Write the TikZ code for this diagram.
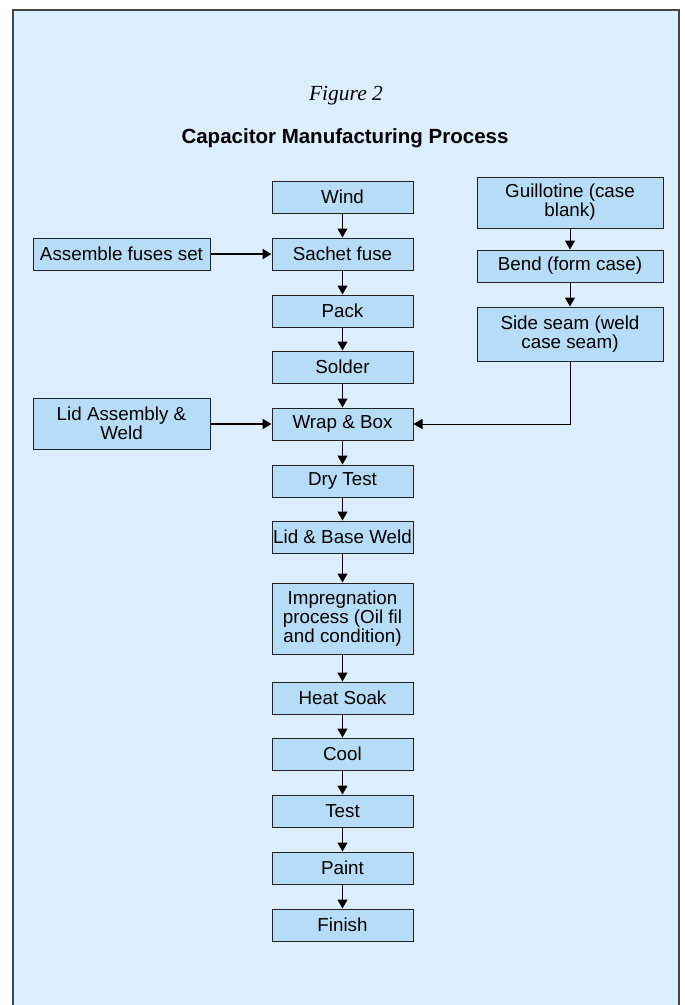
\documentclass[tikz,border=0pt]{standalone}
\usepackage{fontspec}
\setmainfont{Liberation Sans}
\newfontfamily\serifit{Liberation Serif}
\usetikzlibrary{arrows.meta}
\definecolor{panelbg}{HTML}{DCEEFC}
\definecolor{boxfill}{HTML}{B6DDF5}
\definecolor{framecol}{HTML}{454545}
\definecolor{boxline}{HTML}{222222}
\tikzset{
  procbox/.style={draw=boxline, line width=1pt, fill=boxfill, rectangle, align=center,
    inner sep=0pt, font=\fontsize{18.8}{19}\selectfont},
  mainbox/.style={procbox, minimum width=141pt, minimum height=32pt},
  leftbox/.style={procbox, minimum width=177pt},
  rightbox/.style={procbox, minimum width=186pt},
  flow/.style={draw=black, line width=1pt, -{Triangle[width=10pt,length=9pt]}},
  feed/.style={draw=black, line width=2pt, -{Triangle[width=10pt,length=9pt]}}
}
\begin{document}
\begin{tikzpicture}[x=1pt,y=-1pt]
\useasboundingbox (0,0) rectangle (685,1005);
\fill[white] (0,0) rectangle (685,1005);
\fill[panelbg] (13,10) rectangle (679,1005);
\draw[framecol, line width=1.6pt] (13,1005) -- (13,10) -- (679,10) -- (679,1005);
\node (fig) at (346,96) {\serifit\itshape\fontsize{21.5}{24}\selectfont Figure 2};
\node (title) at (345,138) {\bfseries\fontsize{20.5}{22}\selectfont Capacitor Manufacturing Process};
% main column
\node[mainbox] (wind) at (342.5,197) {Wind};
\node[mainbox] (sachet) at (342.5,254) {Sachet fuse};
\node[mainbox] (pack) at (342.5,311) {Pack};
\node[mainbox] (solder) at (342.5,367) {Solder};
\node[mainbox] (wrap) at (342.5,424) {Wrap \& Box};
\node[mainbox] (dry) at (342.5,481) {Dry Test};
\node[mainbox] (lidbase) at (342.5,537) {Lid \& Base Weld};
\node[mainbox, minimum height=71pt] (impreg) at (342.5,618.5) {Impregnation\\process (Oil fil\\and condition)};
\node[mainbox] (heat) at (342.5,698) {Heat Soak};
\node[mainbox] (cool) at (342.5,754) {Cool};
\node[mainbox] (test) at (342.5,811) {Test};
\node[mainbox] (paint) at (342.5,868) {Paint};
\node[mainbox] (finish) at (342.5,925) {Finish};
% left column
\node[leftbox, minimum height=32pt] (fuses) at (121.5,254) {Assemble fuses set};
\node[leftbox, minimum height=51pt] (lidasm) at (121.5,423.5) {Lid Assembly \&\\Weld};
% right column
\node[rightbox, minimum height=51pt] (guill) at (570,202.5) {Guillotine (case\\blank)};
\node[rightbox, minimum height=32pt] (bend) at (570,266) {Bend (form case)};
\node[rightbox, minimum height=54pt] (seam) at (570,334) {Side seam (weld\\case seam)};
% connectors
\draw[flow] (wind) -- (sachet);
\draw[flow] (sachet) -- (pack);
\draw[flow] (pack) -- (solder);
\draw[flow] (solder) -- (wrap);
\draw[flow] (wrap) -- (dry);
\draw[flow] (dry) -- (lidbase);
\draw[flow] (lidbase) -- (impreg);
\draw[flow] (impreg) -- (heat);
\draw[flow] (heat) -- (cool);
\draw[flow] (cool) -- (test);
\draw[flow] (test) -- (paint);
\draw[flow] (paint) -- (finish);
\draw[flow] (guill) -- (bend);
\draw[flow] (bend) -- (seam);
\draw[feed] (fuses) -- (sachet);
\draw[feed] (lidasm.east |- wrap) -- (wrap);
\draw[flow] (seam.south) |- (wrap.east);
\end{tikzpicture}
\end{document}
